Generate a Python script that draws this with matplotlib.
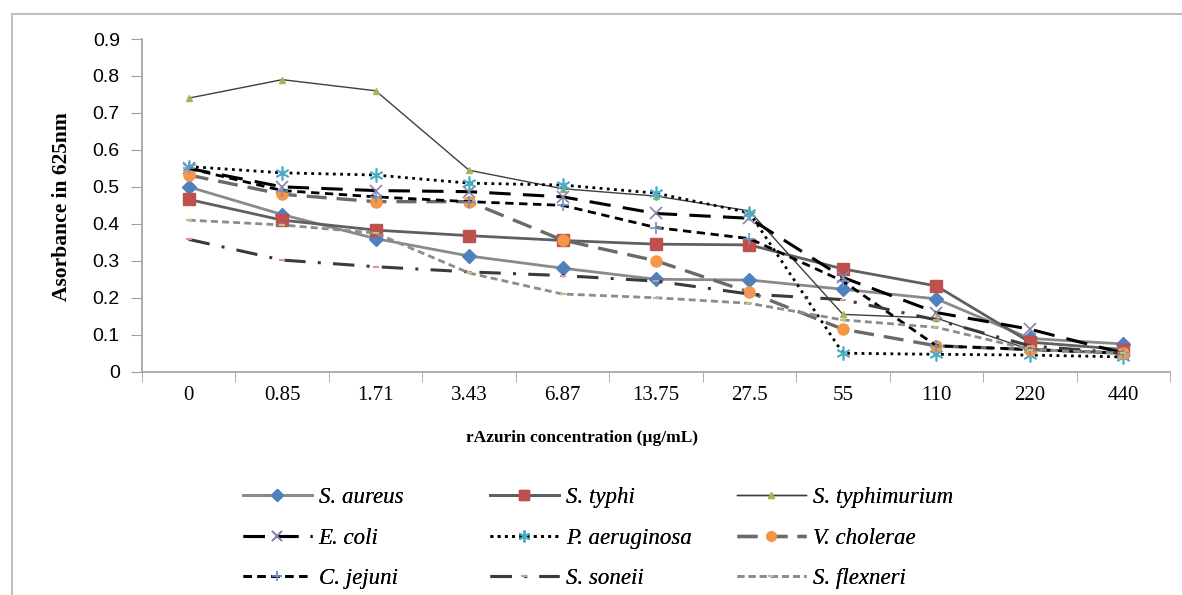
import matplotlib
matplotlib.use("Agg")
import matplotlib.pyplot as plt
from matplotlib.patches import Rectangle
from matplotlib.ticker import FixedLocator, NullFormatter

concentrations = ['0', '0.85', '1.71', '3.43', '6.87', '13.75', '27.5', '55', '110', '220', '440']

s_aureus = [0.50, 0.425, 0.36, 0.313, 0.28, 0.25, 0.248, 0.223, 0.197, 0.09, 0.075]
s_typhi = [0.466, 0.41, 0.383, 0.368, 0.355, 0.345, 0.343, 0.278, 0.232, 0.08, 0.06]
s_typhimurium = [0.74, 0.79, 0.76, 0.545, 0.495, 0.475, 0.435, 0.155, 0.145, 0.06, 0.05]
e_coli = [0.55, 0.50, 0.49, 0.487, 0.473, 0.428, 0.415, 0.255, 0.16, 0.115, 0.05]
p_aeruginosa = [0.555, 0.538, 0.532, 0.51, 0.505, 0.483, 0.43, 0.05, 0.047, 0.045, 0.04]
v_cholerae = [0.532, 0.48, 0.46, 0.46, 0.356, 0.30, 0.215, 0.115, 0.07, 0.06, 0.05]
c_jejuni = [0.55, 0.49, 0.473, 0.46, 0.45, 0.39, 0.36, 0.245, 0.07, 0.06, 0.05]
s_soneii = [0.358, 0.302, 0.284, 0.27, 0.26, 0.245, 0.21, 0.195, 0.14, 0.07, 0.05]
s_flexneri = [0.41, 0.397, 0.375, 0.267, 0.21, 0.20, 0.185, 0.14, 0.12, 0.06, 0.05]

fig = plt.figure(figsize=(11.82, 5.95), dpi=100)
fig.patch.set_facecolor('white')
# outer frame
fig.add_artist(Rectangle((12/1182, -0.05), 1.2, 1 - 14/595 + 0.05, transform=fig.transFigure,
                         fill=False, edgecolor='#bfbfbf', linewidth=1.5))

ax = fig.add_axes([142/1182, 1 - 371.7/595, (1170 - 142)/1182, (371.7 - 39)/595])
x = list(range(len(concentrations)))

series = [
    (s_aureus, 'S. aureus', dict(color='#8a8a8a', lw=2.0, ls='-', marker='D', ms=7, mfc='#4F81BD', mec='#4F81BD')),
    (s_typhi, 'S. typhi', dict(color='#5f5f5f', lw=2.0, ls='-', marker='s', ms=8, mfc='#C0504D', mec='#C0504D')),
    (s_typhimurium, 'S. typhimurium', dict(color='#3f3f3f', lw=1.0, ls='-', marker='^', ms=4.5, mfc='#9BBB59', mec='#9BBB59')),
    (e_coli, 'E. coli', dict(color='black', lw=2.2, ls=(0, (7, 4)), marker='x', ms=9, mfc='#8064A2', mec='#8a7fa8', mew=1.2)),
    (p_aeruginosa, 'P. aeruginosa', dict(color='black', lw=2.0, ls=(0, (1, 1.6)), marker=(6, 2, 0), ms=10, mfc='#4BACC6', mec='#4BACC6', mew=1.2)),
    (v_cholerae, 'V. cholerae', dict(color='#6a6a6a', lw=2.4, ls=(0, (6, 3)), marker='o', ms=8, mfc='#F79646', mec='#F79646')),
    (c_jejuni, 'C. jejuni', dict(color='black', lw=2.0, ls=(0, (3, 2)), marker='+', ms=9, mfc='#6f93c8', mec='#6f93c8', mew=1.2)),
    (s_soneii, 'S. soneii', dict(color='#3a3a3a', lw=2.2, ls=(0, (7, 4, 1, 4)), marker='_', ms=5, mfc='#d99694', mec='#d99694', mew=1.5)),
    (s_flexneri, 'S. flexneri', dict(color='#8c8c8c', lw=2.0, ls=(0, (2.5, 1.5)), marker='_', ms=5, mfc='#b3c48a', mec='#b3c48a', mew=1.5)),
]

handles = {}
for vals, name, st in series:
    (h,) = ax.plot(x, vals, label=name, **st)
    handles[name] = h

ax.set_xlim(-0.5, len(concentrations) - 0.5)
ax.set_ylim(0, 0.9)
ax.set_yticks([0, 0.1, 0.2, 0.3, 0.4, 0.5, 0.6, 0.7, 0.8, 0.9])
ax.set_yticklabels(['0', '0.1', '0.2', '0.3', '0.4', '0.5', '0.6', '0.7', '0.8', '0.9'],
                   fontfamily='Liberation Sans', fontsize=14)
ax.set_xticks(x)
ax.set_xticklabels(concentrations, fontfamily='Liberation Serif', fontsize=15)
ax.xaxis.set_minor_locator(FixedLocator([i - 0.5 for i in range(len(concentrations) + 1)]))
ax.xaxis.set_minor_formatter(NullFormatter())
ax.tick_params(axis='x', which='major', length=0, pad=10)
ax.tick_params(axis='x', which='minor', length=7, color='#a0a0a0', direction='out')
ax.tick_params(axis='y', length=8, color='#a0a0a0', direction='out', pad=8)

for s in ['top', 'right']:
    ax.spines[s].set_visible(False)
for s in ['left', 'bottom']:
    ax.spines[s].set_color('#a6a6a6')
    ax.spines[s].set_linewidth(1.3)

fig.text(62/1182, 1 - 207/595, 'Asorbance in 625nm', rotation=90, ha='center', va='center',
         fontfamily='Liberation Serif', fontweight='bold', fontsize=15.5)
fig.text(582/1182, 1 - 438/595, 'rAzurin concentration (µg/mL)', ha='center', va='center',
         fontfamily='Liberation Serif', fontweight='bold', fontsize=12.5)

columns = [
    (['S. aureus', 'E. coli', 'C. jejuni'], 243),
    (['S. typhi', 'P. aeruginosa', 'S. soneii'], 490),
    (['S. typhimurium', 'V. cholerae', 'S. flexneri'], 737),
]
for names, xpix in columns:
    leg = fig.legend([handles[n] for n in names], names, loc='upper left',
                     bbox_to_anchor=(xpix/1182, 1 - 487/595), frameon=False,
                     prop=dict(family='Liberation Serif', style='italic', size=16.5),
                     handlelength=3.0, handletextpad=0.3, labelspacing=0.85,
                     borderpad=0, borderaxespad=0, numpoints=1, markerscale=0.85)
    fig.add_artist(leg)

fig.savefig('out.png', dpi=100, facecolor='white')
